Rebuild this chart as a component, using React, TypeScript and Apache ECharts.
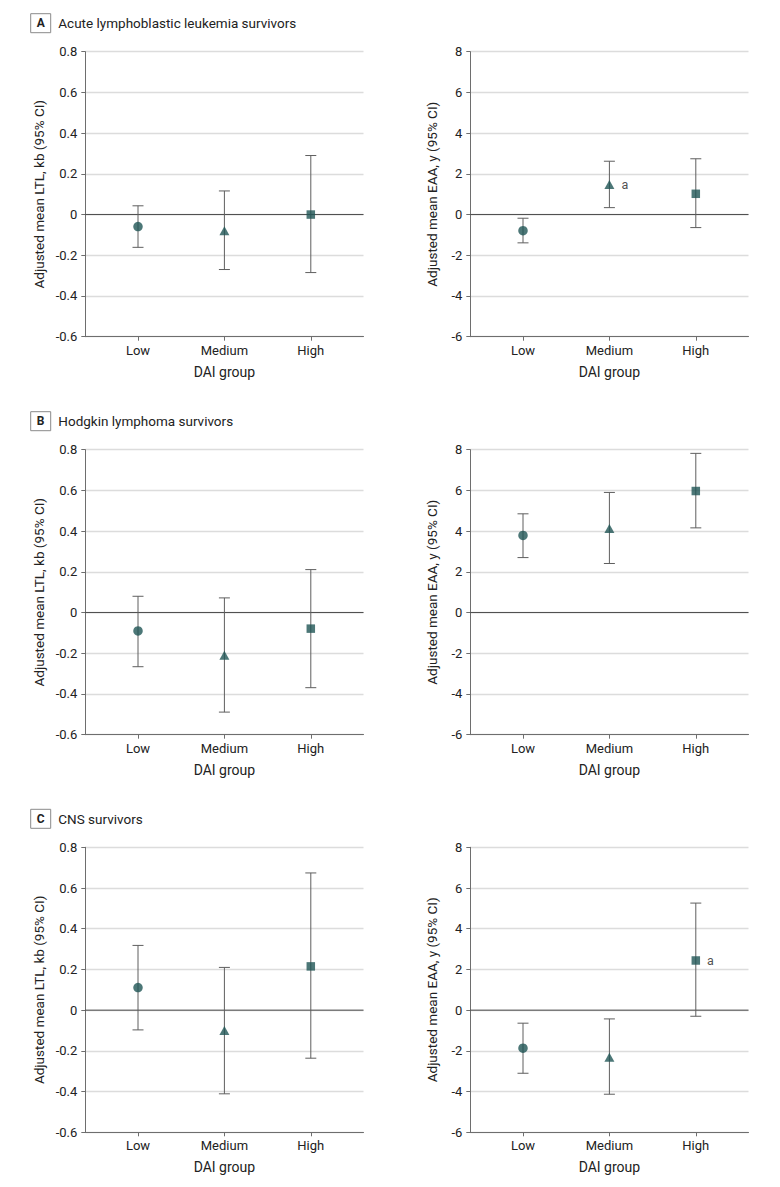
import React, { useEffect, useRef } from "react";
import * as echarts from "echarts";

const categories = ["Low", "Medium", "High"];
const categoryPositions = [1, 2, 3];
const markerSymbols = ["circle", "triangle", "rect"];

const panelLetters = ["A", "B", "C"];
const panelTitles = [
  "Acute lymphoblastic leukemia survivors",
  "Hodgkin lymphoma survivors",
  "CNS survivors",
];

// LTL (kb)
const ltlMeanA = [-0.059, -0.08, 0.0];
const ltlLowA = [-0.161, -0.27, -0.285];
const ltlHighA = [0.043, 0.116, 0.29];
const ltlMeanB = [-0.09, -0.21, -0.079];
const ltlLowB = [-0.266, -0.489, -0.369];
const ltlHighB = [0.08, 0.072, 0.211];
const ltlMeanC = [0.111, -0.1, 0.215];
const ltlLowC = [-0.097, -0.411, -0.236];
const ltlHighC = [0.318, 0.21, 0.674];

// EAA (y)
const eaaMeanA = [-0.79, 1.48, 1.02];
const eaaLowA = [-1.39, 0.34, -0.64];
const eaaHighA = [-0.18, 2.62, 2.74];
const eaaMeanB = [3.79, 4.13, 5.97];
const eaaLowB = [2.7, 2.41, 4.16];
const eaaHighB = [4.85, 5.9, 7.82];
const eaaMeanC = [-1.87, -2.31, 2.44];
const eaaLowC = [-3.1, -4.13, -0.3];
const eaaHighC = [-0.64, -0.43, 5.26];

const eaaNoteA = ["", "a", ""];
const eaaNoteC = ["", "", "a"];
const noNote = ["", "", ""];

const ltlAxisName = "Adjusted mean LTL, kb (95% CI)";
const eaaAxisName = "Adjusted mean EAA, y (95% CI)";
const xAxisName = "DAI group";

const panels = [
  { mean: ltlMeanA, low: ltlLowA, high: ltlHighA, note: noNote, kind: "ltl" },
  { mean: eaaMeanA, low: eaaLowA, high: eaaHighA, note: eaaNoteA, kind: "eaa" },
  { mean: ltlMeanB, low: ltlLowB, high: ltlHighB, note: noNote, kind: "ltl" },
  { mean: eaaMeanB, low: eaaLowB, high: eaaHighB, note: noNote, kind: "eaa" },
  { mean: ltlMeanC, low: ltlLowC, high: ltlHighC, note: noNote, kind: "ltl" },
  { mean: eaaMeanC, low: eaaLowC, high: eaaHighC, note: eaaNoteC, kind: "eaa" },
];

const FONT = "Roboto";
const MARKER = "#1f5555";
const BAR = "#5f5f5f";
const TEXT = "#222222";

const rowTops = [51.7, 449.7, 847.3];
const colLefts = [85.3, 470.3];
const gridW = 278.2;
const gridH = 285;
const X_MIN = 0.39;
const X_MAX = 3.61;

export default function App() {
  const ref = useRef<HTMLDivElement>(null);
  useEffect(() => {
    document.body.style.margin = "0";
    const chart = echarts.init(ref.current!, null, { renderer: "svg" });
    const grids: any[] = [];
    const xAxes: any[] = [];
    const yAxes: any[] = [];
    const series: any[] = [];
    const graphics: any[] = [];

    panels.forEach((p, i) => {
      const row = Math.floor(i / 2);
      const col = i % 2;
      grids.push({
        left: colLefts[col],
        top: rowTops[row],
        width: gridW,
        height: gridH,
        containLabel: false,
      });
      xAxes.push({
        gridIndex: i,
        type: "value",
        min: X_MIN,
        max: X_MAX,
        name: xAxisName,
        nameLocation: "middle",
        nameGap: 28,
        nameTextStyle: { fontFamily: FONT, fontSize: 14, color: TEXT },
        axisLine: { show: true, onZero: false, lineStyle: { color: "#6e6e6e", width: 1 } },
        axisTick: { show: true, length: 4, customValues: categoryPositions, lineStyle: { color: "#6e6e6e" } },
        axisLabel: {
          show: true,
          customValues: categoryPositions,
          margin: 7,
          fontFamily: FONT,
          fontSize: 13,
          color: TEXT,
          formatter: (v: number) => categories[Math.round(v) - 1] ?? "",
        },
        splitLine: { show: false },
      });
      const isLtl = p.kind === "ltl";
      yAxes.push({
        gridIndex: i,
        type: "value",
        min: isLtl ? -0.6 : -6,
        max: isLtl ? 0.8 : 8,
        interval: isLtl ? 0.2 : 2,
        name: isLtl ? ltlAxisName : eaaAxisName,
        nameLocation: "middle",
        nameGap: isLtl ? 39 : 31,
        nameTextStyle: { fontFamily: FONT, fontSize: 13.5, color: TEXT },
        axisLine: { show: true, lineStyle: { color: "#6e6e6e", width: 1 } },
        axisTick: { show: true, length: 4, lineStyle: { color: "#6e6e6e" } },
        axisLabel: {
          margin: 8,
          fontFamily: FONT,
          fontSize: 13,
          color: TEXT,
          formatter: (v: number) => {
            const r = Math.round(v * 10) / 10;
            if (r === 0) return "0";
            return isLtl ? r.toFixed(1) : String(Math.round(v));
          },
        },
        splitLine: { show: true, lineStyle: { color: "#dcdcdc", width: 1.3 } },
      });

      // zero reference line
      series.push({
        type: "line",
        xAxisIndex: i,
        yAxisIndex: i,
        data: [
          [X_MIN, 0],
          [X_MAX, 0],
        ],
        symbol: "none",
        silent: true,
        lineStyle: { color: "#4a4a4a", width: 1 },
        z: 1,
      });

      // error bars
      series.push({
        type: "custom",
        xAxisIndex: i,
        yAxisIndex: i,
        z: 2,
        silent: true,
        data: categoryPositions.map((x, k) => [x, p.low[k], p.high[k]]),
        encode: { x: 0, y: [1, 2] },
        renderItem: (params: any, api: any) => {
          const x = api.value(0);
          const lo = api.coord([x, api.value(1)]);
          const hi = api.coord([x, api.value(2)]);
          const cap = 5.5;
          const style = { stroke: BAR, lineWidth: 1 };
          return {
            type: "group",
            children: [
              { type: "line", shape: { x1: lo[0], y1: lo[1], x2: hi[0], y2: hi[1] }, style },
              { type: "line", shape: { x1: lo[0] - cap, y1: lo[1], x2: lo[0] + cap, y2: lo[1] }, style },
              { type: "line", shape: { x1: hi[0] - cap, y1: hi[1], x2: hi[0] + cap, y2: hi[1] }, style },
            ],
          };
        },
      });

      // point estimates
      series.push({
        type: "scatter",
        xAxisIndex: i,
        yAxisIndex: i,
        z: 3,
        silent: true,
        data: categoryPositions.map((x, k) => ({
          value: [x, p.mean[k]],
          symbol: markerSymbols[k],
          symbolSize: k === 0 ? 9.5 : k === 1 ? [10, 9] : 8.5,
          label: {
            show: p.note[k] !== "",
            formatter: p.note[k],
            position: "right",
            distance: 7,
            fontFamily: FONT,
            fontSize: 12.5,
            color: TEXT,
          },
        })),
        itemStyle: { color: MARKER },
      });
    });

    // panel headers
    rowTops.forEach((top, r) => {
      const cy = top - 28.5;
      graphics.push({
        type: "rect",
        shape: { x: 30.7, y: cy - 9.5, width: 20, height: 19 },
        style: { fill: "#ffffff", stroke: "#8a8a8a", lineWidth: 1 },
      });
      graphics.push({
        type: "text",
        x: 40.7,
        y: cy,
        style: {
          text: panelLetters[r],
          fontFamily: FONT,
          fontSize: 12,
          fontWeight: "bold",
          fill: TEXT,
          align: "center",
          verticalAlign: "middle",
        },
      });
      graphics.push({
        type: "text",
        x: 58.3,
        y: cy,
        style: {
          text: panelTitles[r],
          fontFamily: FONT,
          fontSize: 13.5,
          fill: TEXT,
          align: "left",
          verticalAlign: "middle",
        },
      });
    });

    chart.setOption({
      animation: false,
      backgroundColor: "#ffffff",
      grid: grids,
      xAxis: xAxes,
      yAxis: yAxes,
      series,
      graphic: graphics,
    });
    return () => chart.dispose();
  }, []);
  return (
    <div
      ref={ref}
      style={{ position: "absolute", left: 0, top: 0, width: 780, height: 1187 }}
    />
  );
}
